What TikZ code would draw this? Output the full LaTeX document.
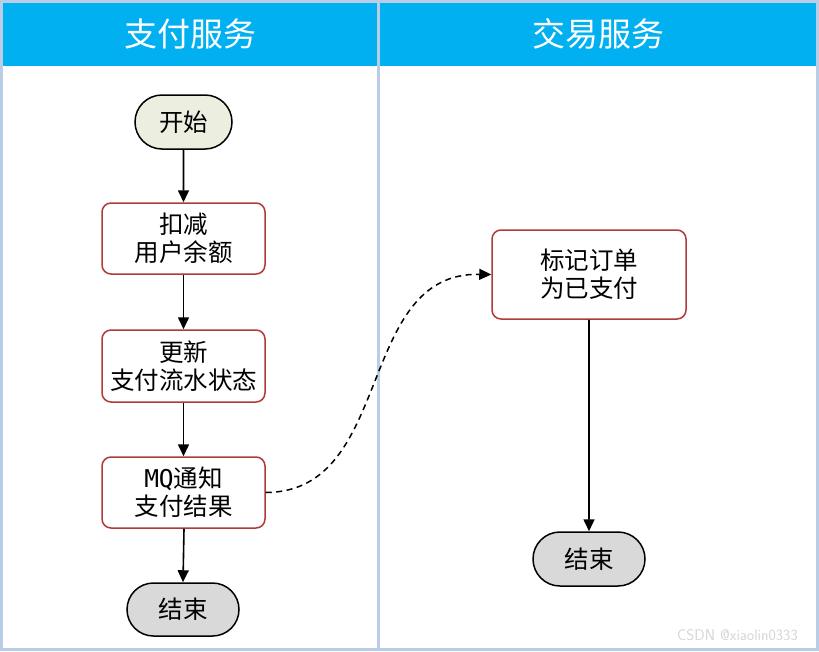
\documentclass[tikz,border=0pt]{standalone}
\usepackage{fontspec}
\newfontfamily\cjk{Noto Sans CJK SC}
\newfontfamily\monof{DejaVu Sans Mono}
\usetikzlibrary{arrows.meta,shapes.misc}
\definecolor{laneline}{HTML}{BACDE6}
\definecolor{headblue}{HTML}{00B0F0}
\definecolor{boxred}{HTML}{B03A3A}
\definecolor{startfill}{HTML}{ECEFDF}
\definecolor{endfill}{HTML}{D9D9D9}
\begin{document}
\begin{tikzpicture}[x=1pt,y=-1pt,
  every node/.style={font=\cjk\fontsize{24.5}{28}\selectfont, align=center, inner sep=0pt},
  procbox/.style={draw=boxred, line width=1.5pt, rounded corners=9pt, fill=white},
  termbox/.style={draw=black, line width=1.5pt, rounded rectangle},
  flow/.style={draw=black, line width=1.6pt, -{Triangle[length=12pt,width=11pt]}},
  headtext/.style={text=white, font=\cjk\fontsize{33}{38}\selectfont}]
\useasboundingbox (0,0) rectangle (819,651);
\fill[white] (0,0) rectangle (819,651);
% header band
\fill[headblue] (1,2) rectangle (818,66);
% outer frame and divider
\draw[laneline, line width=3pt] (1.5,1.5) rectangle (817.5,649.5);
\draw[laneline, line width=3pt] (378.5,0) -- (378.5,651);
\node[headtext] (h1) at (190,34) {支付服务};
\node[headtext] (h2) at (598,34) {交易服务};
% left lane
\node[termbox, fill=startfill, minimum width=97pt, minimum height=54pt] (start) at (183.5,122) {开始};
\node[procbox, minimum width=163pt, minimum height=71pt] (deduct) at (183.5,238.5) {扣减\\用户余额};
\node[procbox, minimum width=163pt, minimum height=72pt] (update) at (183.5,366) {更新\\支付流水状态};
\node[procbox, minimum width=163pt, minimum height=71pt] (mq) at (183.5,492.5) {{\monof MQ}通知\\支付结果};
\node[termbox, fill=endfill, minimum width=112pt, minimum height=53pt] (end1) at (183,609.5) {结束};
% right lane
\node[procbox, minimum width=194pt, minimum height=89pt] (mark) at (589,274.5) {标记订单\\为已支付};
\node[termbox, fill=endfill, minimum width=112pt, minimum height=54pt] (end2) at (589,559) {结束};
% connectors
\draw[flow] (start) -- (deduct);
\draw[flow] (deduct) -- (update);
\draw[flow] (update) -- (mq);
\draw[flow] ([xshift=0.5pt]mq.south) -- (end1.north);
\draw[flow] (mark) -- (end2);
\draw[black, line width=1.5pt, dash pattern=on 6pt off 4.5pt, -{Triangle[length=12pt,width=11pt]}]
  (mq.east) .. controls (395,492) and (355,272) .. (mark.west);
% watermark
\node[font=\fontsize{15.5}{18}\selectfont\sffamily, text=black!16, anchor=east] (wm) at (798,635) {CSDN @xiaolin0333};
\end{tikzpicture}
\end{document}
